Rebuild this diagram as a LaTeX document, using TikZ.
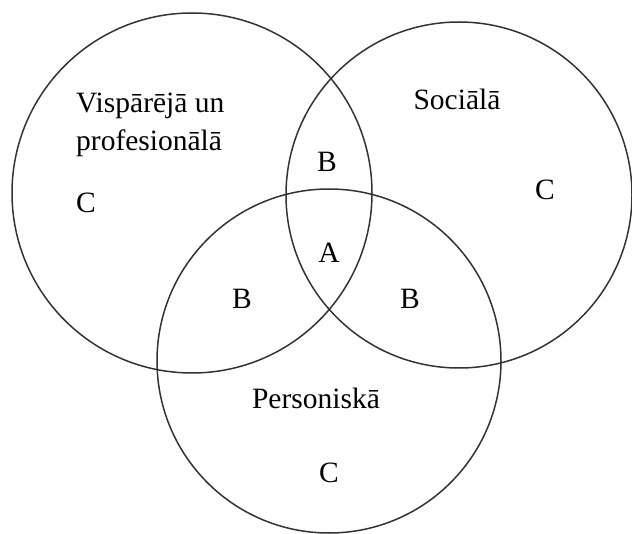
\documentclass[tikz,border=0pt]{standalone}
\usepackage{fontspec}
\setmainfont{Liberation Serif}
\begin{document}
\begin{tikzpicture}[x=1pt,y=-1pt,
  ring/.style={draw=black!80,line width=1.5pt},
  lbl/.style={font=\fontsize{29.5}{38}\selectfont,inner sep=0pt}]
\useasboundingbox (0,0) rectangle (632,534);
\coordinate (cl) at (192,193);
\coordinate (cr) at (459,195);
\coordinate (cb) at (329,361);
\draw[ring] (cl) circle (180);
\draw[ring] (cr) circle (173);
\draw[ring] (cb) circle (172);
\node[lbl,align=left,anchor=west] (vp) at (76,125) {Vispārējā un\\profesionālā};
\node[lbl] (soc) at (457,99) {Sociālā};
\node[lbl] (pers) at (316,398) {Personiskā};
\node[lbl] (btop) at (327,162) {B};
\node[lbl] (bl) at (242,299) {B};
\node[lbl] (br) at (410,299) {B};
\node[lbl] (a) at (329,253) {A};
\node[lbl] (cL) at (86,203) {C};
\node[lbl] (cR) at (545,190) {C};
\node[lbl] (cB) at (329,473) {C};
\end{tikzpicture}
\end{document}
